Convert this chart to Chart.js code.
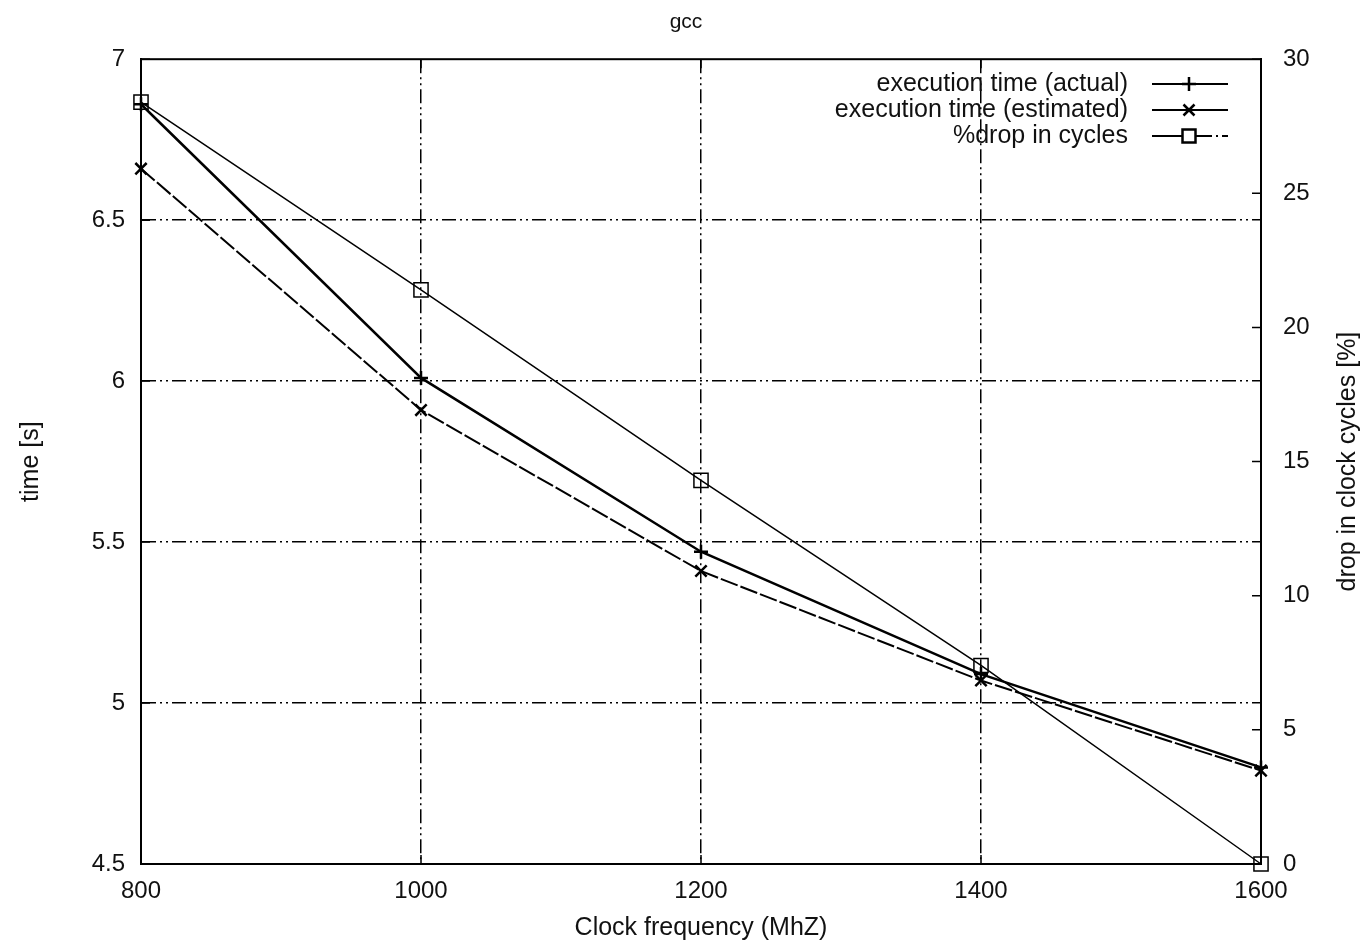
<!DOCTYPE html>
<html>
<head>
<meta charset="utf-8">
<script src="https://cdn.jsdelivr.net/npm/chart.js"></script>
<style>
  html, body { margin: 0; padding: 0; background: #fff; }
  #wrap { width: 1372px; height: 947px; position: relative; }
</style>
</head>
<body>
<div id="wrap"><canvas id="gccChart"></canvas></div>
<script>
// values
const clockFreqs = [800, 1000, 1200, 1400, 1600];
const timeActual = [6.86, 6.01, 5.47, 5.09, 4.80];
const timeEstimated = [6.66, 5.91, 5.41, 5.07, 4.79];
const cycleDrop = [28.4, 21.4, 14.3, 7.4, 0];

const timeTicks = [4.5, 5, 5.5, 6, 6.5, 7];
const dropTicks = [0, 5, 10, 15, 20, 25, 30];
const freqTicks = [800, 1000, 1200, 1400, 1600];

const legendLabels = ['execution time (actual)', 'execution time (estimated)', '%drop in cycles'];

const FONT = '"Liberation Sans", Arial, Helvetica, sans-serif';
const gridDash = [14, 4, 2, 4, 2, 4];

function toPoints(xs, ys) {
    return xs.map((x, i) => ({ x: x, y: ys[i] }));
}

// plain gnuplot style numbers (no "7.0", no "1,000")
function plainLabel(value) {
    return String(value);
}

// hide grid lines that sit on the frame
function innerGrid(ctx) {
    const n = ctx.scale.ticks.length;
    if (ctx.index === 0 || ctx.index === n - 1) return 'rgba(0,0,0,0)';
    return '#000';
}

// frame, inward tick marks, right axis title
const framePlugin = {
    id: 'frame',
    beforeDatasetsDraw(chart) {
        const { ctx, chartArea: a, scales } = chart;
        ctx.save();
        ctx.strokeStyle = '#000';
        ctx.lineWidth = 2;
        ctx.setLineDash([]);
        ctx.strokeRect(a.left, a.top, a.right - a.left, a.bottom - a.top);

        ctx.lineWidth = 1.5;
        ctx.beginPath();
        freqTicks.forEach(v => {
            const x = scales.x.getPixelForValue(v);
            ctx.moveTo(x, a.bottom); ctx.lineTo(x, a.bottom - 9);
            ctx.moveTo(x, a.top); ctx.lineTo(x, a.top + 9);
        });
        timeTicks.forEach(v => {
            const y = scales.y.getPixelForValue(v);
            ctx.moveTo(a.left, y); ctx.lineTo(a.left + 9, y);
        });
        dropTicks.forEach(v => {
            const y = scales.y1.getPixelForValue(v);
            ctx.moveTo(a.right, y); ctx.lineTo(a.right - 9, y);
        });
        ctx.stroke();
        ctx.restore();
    },
    afterDraw(chart) {
        const { ctx, chartArea: a } = chart;
        ctx.save();
        ctx.translate(1348, (a.top + a.bottom) / 2);
        ctx.rotate(-Math.PI / 2);
        ctx.fillStyle = '#111';
        ctx.font = '25px ' + FONT;
        ctx.textAlign = 'center';
        ctx.textBaseline = 'middle';
        ctx.fillText('drop in clock cycles [%]', 0, 0);
        ctx.restore();
    }
};

function drawMarker(ctx, style, x, y) {
    ctx.beginPath();
    if (style === 'cross') {
        ctx.moveTo(x - 7, y); ctx.lineTo(x + 7, y);
        ctx.moveTo(x, y - 7); ctx.lineTo(x, y + 7);
        ctx.stroke();
    } else if (style === 'crossRot') {
        ctx.moveTo(x - 5.5, y - 5.5); ctx.lineTo(x + 5.5, y + 5.5);
        ctx.moveTo(x - 5.5, y + 5.5); ctx.lineTo(x + 5.5, y - 5.5);
        ctx.stroke();
    } else {
        ctx.fillStyle = '#fff';
        ctx.fillRect(x - 6.5, y - 6.5, 13, 13);
        ctx.strokeRect(x - 6.5, y - 6.5, 13, 13);
    }
}

// gnuplot style key: text right aligned, sample on the right
const keyPlugin = {
    id: 'gnuKey',
    afterDatasetsDraw(chart) {
        const { ctx } = chart;
        const rows = [84, 110, 136];
        ctx.save();
        chart.data.datasets.forEach((ds, i) => {
            const y = rows[i];
            ctx.fillStyle = '#111';
            ctx.font = '25px ' + FONT;
            ctx.textAlign = 'right';
            ctx.textBaseline = 'middle';
            ctx.fillText(legendLabels[i], 1128, y);

            ctx.strokeStyle = '#000';
            ctx.lineWidth = 2;
            ctx.setLineDash(i === 2 ? [60, 4, 2, 4] : []);
            ctx.beginPath();
            ctx.moveTo(1152, y); ctx.lineTo(1228, y);
            ctx.stroke();
            ctx.setLineDash([]);
            ctx.lineWidth = 2.5;
            drawMarker(ctx, ds.pointStyle, 1189, y);
        });
        ctx.restore();
    }
};

const ctx = document.getElementById('gccChart').getContext('2d');
new Chart(ctx, {
    type: 'line',
    data: {
        datasets: [
            {
                label: legendLabels[0],
                data: toPoints(clockFreqs, timeActual),
                yAxisID: 'y',
                borderColor: '#000',
                borderWidth: 2.5,
                pointStyle: 'cross',
                pointRadius: 7,
                pointBorderWidth: 2.5,
                pointBorderColor: '#000',
                tension: 0,
                clip: false
            },
            {
                label: legendLabels[1],
                data: toPoints(clockFreqs, timeEstimated),
                yAxisID: 'y',
                borderColor: '#000',
                borderWidth: 2,
                borderDash: [18, 3],
                pointStyle: 'crossRot',
                pointRadius: 8,
                pointBorderWidth: 2.5,
                pointBorderColor: '#000',
                tension: 0,
                clip: false
            },
            {
                label: legendLabels[2],
                data: toPoints(clockFreqs, cycleDrop),
                yAxisID: 'y1',
                borderColor: '#000',
                borderWidth: 1.5,
                pointStyle: 'rect',
                pointRadius: 10,
                pointBorderWidth: 1.5,
                pointBorderColor: '#000',
                pointBackgroundColor: 'rgba(255,255,255,0)',
                tension: 0,
                clip: false
            }
        ]
    },
    options: {
        responsive: true,
        maintainAspectRatio: false,
        animation: false,
        layout: { padding: 0 },
        plugins: {
            legend: { display: false },
            tooltip: { enabled: false },
            title: {
                display: true,
                text: 'gcc',
                color: '#111',
                font: { family: FONT, size: 21, weight: 'normal' },
                padding: { top: 10, bottom: 24 }
            }
        },
        scales: {
            x: {
                type: 'linear',
                min: 800,
                max: 1600,
                afterBuildTicks: s => { s.ticks = freqTicks.map(v => ({ value: v })); },
                afterFit: s => { s.height = 83; },
                grid: { color: innerGrid, lineWidth: 1.5, drawTicks: false },
                border: { display: true, color: '#000', width: 2, dash: gridDash },
                ticks: { color: '#111', padding: 13, font: { family: FONT, size: 24 }, callback: plainLabel },
                title: {
                    display: true,
                    text: 'Clock frequency (MhZ)',
                    color: '#111',
                    font: { family: FONT, size: 25 },
                    padding: { top: 0, bottom: 4 }
                }
            },
            y: {
                position: 'left',
                min: 4.5,
                max: 7,
                afterBuildTicks: s => { s.ticks = timeTicks.map(v => ({ value: v })); },
                afterFit: s => { s.width = 141; },
                grid: { color: innerGrid, lineWidth: 1.5, drawTicks: false },
                border: { display: true, color: '#000', width: 2, dash: gridDash },
                ticks: { color: '#111', padding: 16, font: { family: FONT, size: 24 }, callback: plainLabel },
                title: {
                    display: true,
                    text: 'time [s]',
                    color: '#111',
                    font: { family: FONT, size: 25 },
                    padding: { top: 16, bottom: 0 }
                }
            },
            y1: {
                position: 'right',
                min: 0,
                max: 30,
                afterBuildTicks: s => { s.ticks = dropTicks.map(v => ({ value: v })); },
                afterFit: s => { s.width = 111; },
                grid: { display: false, drawTicks: false },
                border: { display: true, color: '#000', width: 2 },
                ticks: { color: '#111', padding: 22, font: { family: FONT, size: 24 }, callback: plainLabel }
            }
        }
    },
    plugins: [framePlugin, keyPlugin]
});
</script>
</body>
</html>
